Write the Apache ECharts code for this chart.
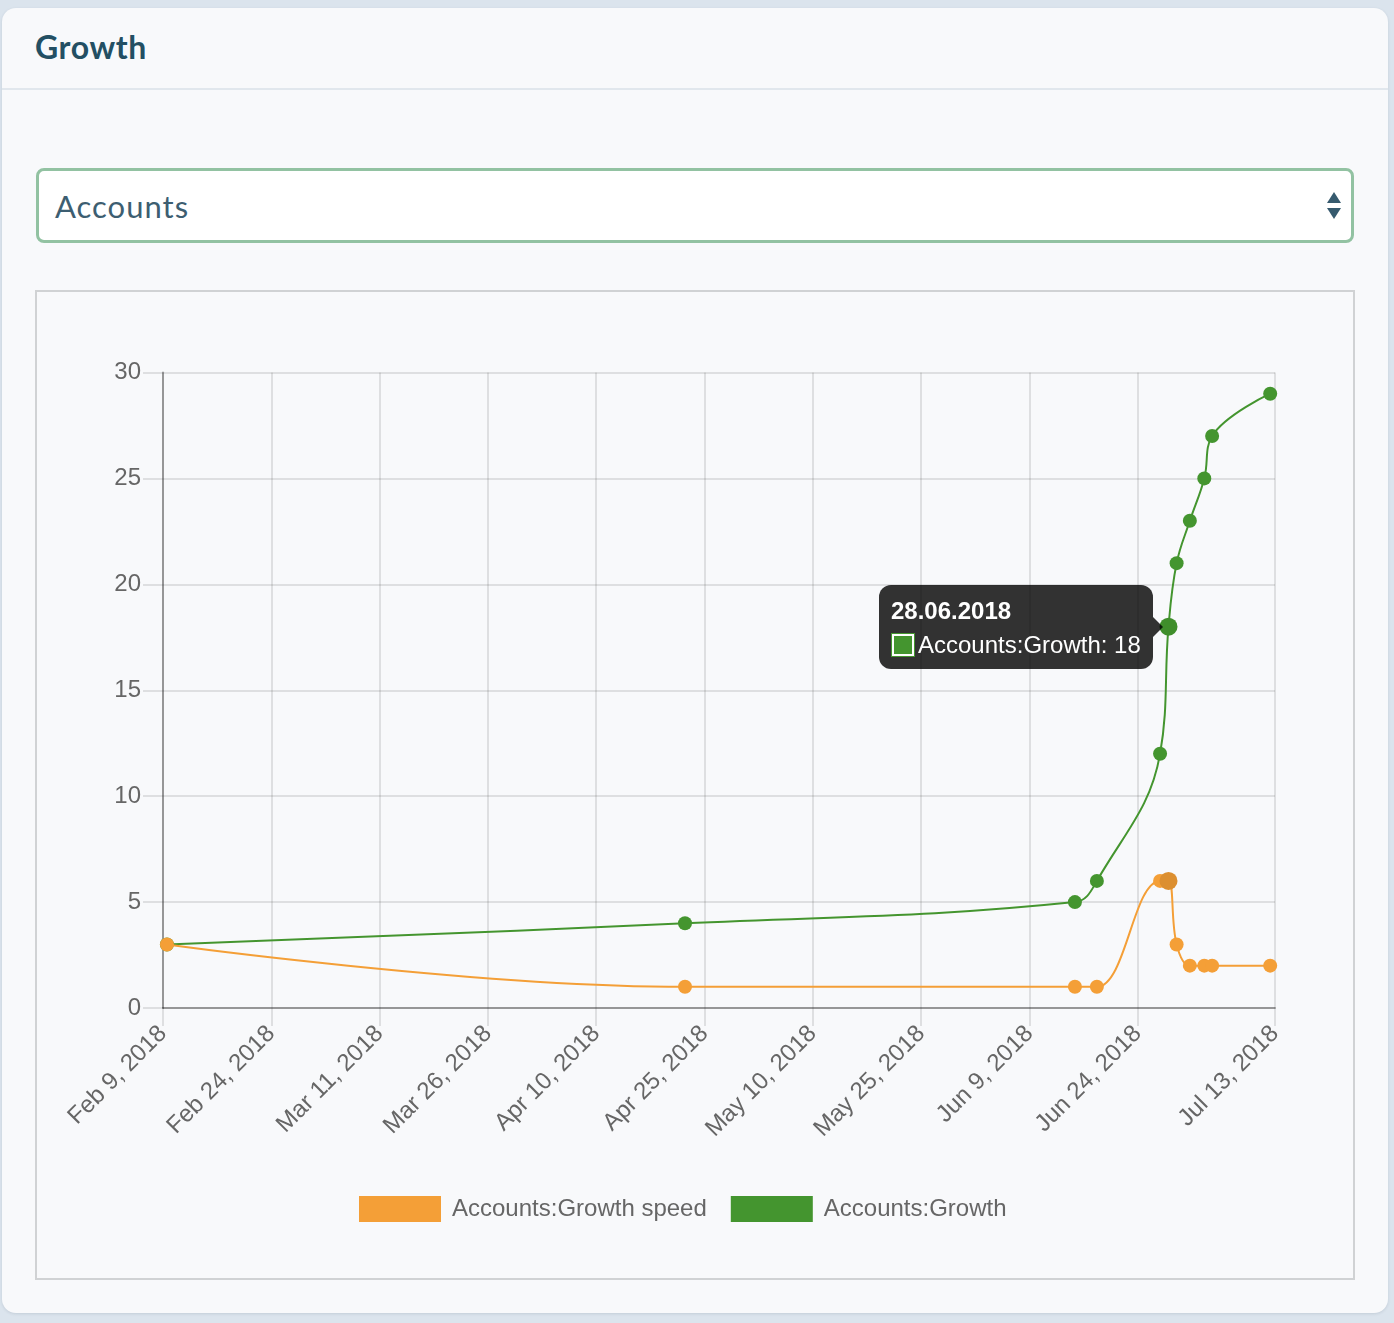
<!DOCTYPE html>
<html>
<head>
<meta charset="utf-8">
<script src="https://cdn.jsdelivr.net/npm/echarts@6/dist/echarts.min.js"></script>
<style>
  html, body { margin: 0; padding: 0; }
  body { width: 1394px; height: 1323px; background: #dbe4ed; position: relative; overflow: hidden; font-family: "Liberation Sans", Arial, sans-serif; }
  #card { position: absolute; left: 2px; top: 8px; width: 1386px; height: 1305px; background: #f8f9fb; border-radius: 14px; box-shadow: 0 1px 3px rgba(60,80,100,0.15); }
  #header { position: absolute; left: 0; top: 0; width: 100%; height: 80px; border-bottom: 2px solid #e1e7ed; }
  #title { position: absolute; left: 33px; top: 19px; font-family: Lato, "Open Sans", sans-serif; font-weight: 700; font-size: 32px; color: #234f63; letter-spacing: 0.6px; }
  #select { position: absolute; left: 34px; top: 160px; width: 1318px; height: 75px; box-sizing: border-box; border: 3px solid #92c2a2; border-radius: 8px; background: #fff; }
  #selText { position: absolute; left: 16px; top: 16px; font-family: Lato, "Open Sans", sans-serif; font-size: 31px; color: #3d5e71; letter-spacing: 1px; }
  #up { position: absolute; right: 10px; top: 21px; width: 0; height: 0; border-left: 7px solid transparent; border-right: 7px solid transparent; border-bottom: 11px solid #365a6e; }
  #down { position: absolute; right: 10px; top: 37px; width: 0; height: 0; border-left: 7px solid transparent; border-right: 7px solid transparent; border-top: 11px solid #365a6e; }
  #frame { position: absolute; left: 33px; top: 282px; width: 1320px; height: 990px; box-sizing: border-box; border: 2px solid #d0d2d4; }
  #chart { position: absolute; left: 0; top: 0; width: 1316px; height: 986px; }
</style>
</head>
<body>
<div id="card">
  <div id="header"><div id="title">Growth</div></div>
  <div id="select"><div id="selText">Accounts</div><div id="up"></div><div id="down"></div></div>
  <div id="frame"><div id="chart"></div></div>
</div>
<script>
// ---- data ----
const pointDates = ['2018-02-09T13:00', '2018-04-22T07:00', '2018-06-15T07:00', '2018-06-18T08:00',
  '2018-06-27T02:00', '2018-06-28T06:00', '2018-06-29T09:00', '2018-07-01T05:00',
  '2018-07-03T05:00', '2018-07-04T07:00', '2018-07-12T08:00'];
const growthSpeed = [3, 1, 1, 1, 6, 6, 3, 2, 2, 2, 2];
const growth = [3, 4, 5, 6, 12, 18, 21, 23, 25, 27, 29];
const tickDates = ['2018-02-09', '2018-02-24', '2018-03-11', '2018-03-26', '2018-04-10', '2018-04-25',
  '2018-05-10', '2018-05-25', '2018-06-09', '2018-06-24', '2018-07-13'];
const seriesNames = ['Accounts:Growth speed', 'Accounts:Growth'];
const yTicks = [0, 5, 10, 15, 20, 25, 30];
const hoverIndex = 5;

// ---- helpers ----
const MONTHS = ['Jan','Feb','Mar','Apr','May','Jun','Jul','Aug','Sep','Oct','Nov','Dec'];
const toTs = s => Date.parse(s.length === 10 ? s + 'T00:00:00Z' : s + ':00Z');
const fmtAxis = v => { const d = new Date(v); return MONTHS[d.getUTCMonth()] + ' ' + d.getUTCDate() + ', ' + d.getUTCFullYear(); };
const pad = n => (n < 10 ? '0' : '') + n;
const fmtTip = v => { const d = new Date(v); return pad(d.getUTCDate()) + '.' + pad(d.getUTCMonth() + 1) + '.' + d.getUTCFullYear(); };

const tickTs = tickDates.map(toTs);
const xs = pointDates.map(toTs);

const ORANGE = '#f49f37', ORANGE_H = '#dc8f30';
const GREEN = '#44952f', GREEN_H = '#3f8e2b';

function buildData(vals, color, hcolor) {
  return vals.map((v, i) => i === hoverIndex
    ? { value: [xs[i], v], symbolSize: 18, itemStyle: { color: hcolor } }
    : { value: [xs[i], v] });
}

const chart = echarts.init(document.getElementById('chart'));
const FONT = '"Liberation Sans", Arial, Helvetica, sans-serif';
const gridColor = 'rgba(0,0,0,0.1)';
const axisColor = 'rgba(0,0,0,0.33)';

chart.setOption({
  animation: false,
  textStyle: { fontFamily: FONT },
  grid: { left: 126, right: 78, top: 80.5, bottom: 270 },
  xAxis: {
    type: 'value',
    min: tickTs[0],
    max: tickTs[tickTs.length - 1],
    axisLine: { show: true, onZero: false, lineStyle: { color: axisColor, width: 2 } },
    axisTick: { show: true, length: 18, customValues: tickTs, lineStyle: { color: gridColor, width: 2 } },
    splitLine: { show: true, lineStyle: { color: gridColor, width: 2 } },
    axisLabel: { customValues: tickTs, rotate: 45, margin: 22, fontSize: 24, color: '#666', fontFamily: FONT, formatter: fmtAxis },
  },
  yAxis: {
    type: 'value',
    min: yTicks[0], max: yTicks[yTicks.length - 1], interval: 5,
    axisLine: { show: true, lineStyle: { color: axisColor, width: 2 } },
    axisTick: { show: true, length: 20, lineStyle: { color: gridColor, width: 2 } },
    splitLine: { show: true, lineStyle: { color: gridColor, width: 2 } },
    axisLabel: { margin: 22, fontSize: 24, color: '#666', fontFamily: FONT },
  },
  legend: {
    data: seriesNames,
    left: 317, top: 899,
    icon: 'rect', itemWidth: 82, itemHeight: 26, itemGap: 24,
    selectedMode: false,
    textStyle: { fontSize: 24, color: '#666', fontFamily: FONT, padding: [0, 0, 0, 6] },
  },
  tooltip: {
    trigger: 'item',
    triggerOn: 'none',
    alwaysShowContent: true,
    transitionDuration: 0,
    backgroundColor: 'rgba(0,0,0,0.8)',
    borderWidth: 0,
    padding: [14, 12, 12, 12],
    extraCssText: 'border-radius:12px;box-shadow:none;',
    textStyle: { color: '#fff', fontSize: 24, fontFamily: FONT },
    position: function (point, params, dom, rect, size) {
      return [point[0] - size.contentSize[0] - 15, point[1] - size.contentSize[1] / 2];
    },
    formatter: function (p) {
      const c = p.seriesIndex === 0 ? ORANGE : GREEN;
      return '<div style="font-weight:bold;line-height:24px;margin-bottom:10px">' + fmtTip(p.value[0]) + '</div>' +
        '<div style="line-height:24px;display:flex;align-items:center;white-space:nowrap">' +
        '<span style="display:inline-block;box-sizing:border-box;width:22px;height:22px;background:' + c + ';border:2px solid #fff;outline:1px solid ' + c + ';margin:0 4px 0 1px"></span>' +
        p.seriesName + ': ' + p.value[1] + '</div>' +
        '<span style="position:absolute;right:-10px;top:50%;margin-top:-10px;width:0;height:0;border-style:solid;border-width:10px 0 10px 10px;border-color:transparent transparent transparent rgba(0,0,0,0.8)"></span>';
    }
  },
  series: [
    {
      name: seriesNames[0], type: 'line', smooth: 0.4, z: 3,
      symbol: 'circle', symbolSize: 14, showSymbol: true,
      color: ORANGE,
      itemStyle: { color: ORANGE },
      lineStyle: { color: ORANGE, width: 2 },
      emphasis: { disabled: true },
      data: buildData(growthSpeed, ORANGE, ORANGE_H)
    },
    {
      name: seriesNames[1], type: 'line', smooth: 0.4, z: 2,
      symbol: 'circle', symbolSize: 14, showSymbol: true,
      color: GREEN,
      itemStyle: { color: GREEN },
      lineStyle: { color: GREEN, width: 2 },
      emphasis: { disabled: true },
      data: buildData(growth, GREEN, GREEN_H)
    }
  ]
});
chart.dispatchAction({ type: 'showTip', seriesIndex: 1, dataIndex: hoverIndex });
setTimeout(function () { chart.dispatchAction({ type: 'showTip', seriesIndex: 1, dataIndex: hoverIndex }); }, 50);
</script>
</body>
</html>
